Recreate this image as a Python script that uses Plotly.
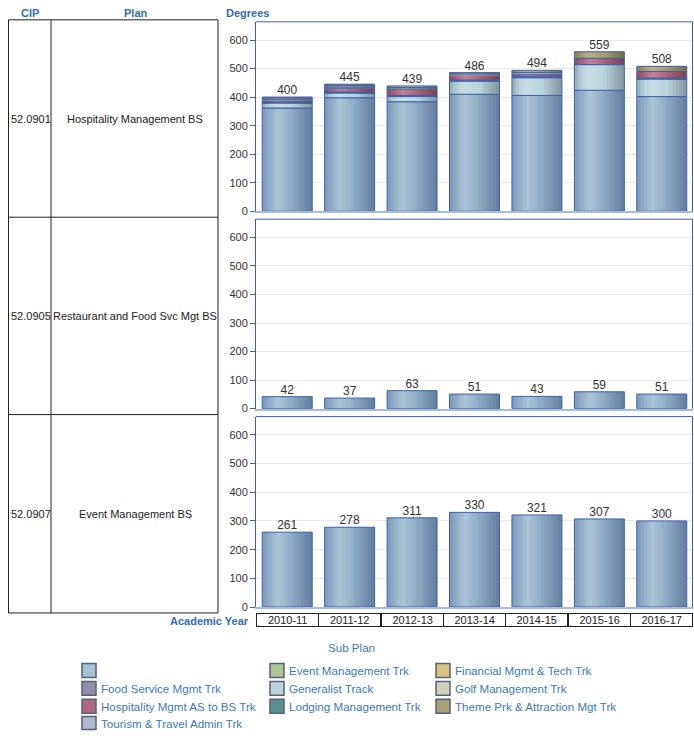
import plotly.graph_objects as go

# ---------------- data ----------------
years = ["2010-11", "2011-12", "2012-13", "2013-14", "2014-15", "2015-16", "2016-17"]
cips = ["52.0901", "52.0905", "52.0907"]
plans = ["Hospitality Management BS", "Restaurant and Food Svc Mgt BS", "Event Management BS"]

# Panel 1: Hospitality Management BS (stacked by sub plan, bottom to top)
hm_blank = [362, 398, 384, 410, 406, 424, 402]
hm_generalist = [18, 17, 18, 46, 62, 90, 62]
hm_lodging = [3, 3, 0, 0, 0, 0, 3]
hm_food = [0, 0, 4, 4, 5, 0, 0]
hm_hosp_as = [7, 13, 22, 18, 7, 22, 23]
hm_golf = [3, 4, 0, 3, 6, 0, 0]
hm_theme = [5, 6, 6, 5, 8, 23, 18]
hm_financial = [2, 4, 5, 0, 0, 0, 0]

# Panel 2: Restaurant and Food Svc Mgt BS
rf_blank = [42, 37, 63, 51, 43, 59, 51]
# Panel 3: Event Management BS
em_blank = [261, 278, 311, 330, 321, 307, 300]

legend_labels = ["", "Event Management Trk", "Financial Mgmt & Tech Trk",
                 "Food Service Mgmt Trk", "Generalist Track", "Golf Management Trk",
                 "Hospitality Mgmt AS to BS Trk", "Lodging Management Trk",
                 "Theme Prk & Attraction Mgt Trk", "Tourism & Travel Admin Trk"]

# ---------------- styles ----------------
COL = {
    "": "#93aecb",
    "Event Management Trk": "#a9c48e",
    "Financial Mgmt & Tech Trk": "#d8c07a",
    "Food Service Mgmt Trk": "#8d86a8",
    "Generalist Track": "#b7d3dc",
    "Golf Management Trk": "#d0d0b8",
    "Hospitality Mgmt AS to BS Trk": "#ad6078",
    "Lodging Management Trk": "#4f8a8a",
    "Theme Prk & Attraction Mgt Trk": "#a39a6c",
    "Tourism & Travel Admin Trk": "#aab5cd",
}
BLANK_STOPS = [(0.0, "#7b98bc"), (0.3, "#aac6d6"), (0.55, "#92afca"), (1.0, "#627e9e")]

W, H = 694, 736
def px(x): return x / W
def py(y): return 1 - y / H

def hex2rgb(h):
    h = h.lstrip("#")
    return [int(h[i:i + 2], 16) for i in (0, 2, 4)]

def rgbstr(r):
    return "rgb(%d,%d,%d)" % tuple(int(round(c)) for c in r)

def shade(h, p):
    r = hex2rgb(h)
    if p >= 0:
        r = [c + (255 - c) * p for c in r]
    else:
        r = [c * (1 + p) for c in r]
    return rgbstr(r)

def prof(t):
    pts = [(0.0, -0.20), (0.3, 0.22), (0.55, 0.05), (1.0, -0.30)]
    for (t0, v0), (t1, v1) in zip(pts[:-1], pts[1:]):
        if t0 <= t <= t1:
            return v0 + (v1 - v0) * (t - t0) / (t1 - t0)
    return 0

def stops_color(t):
    for (t0, c0), (t1, c1) in zip(BLANK_STOPS[:-1], BLANK_STOPS[1:]):
        if t0 <= t <= t1:
            a, b = hex2rgb(c0), hex2rgb(c1)
            f = (t - t0) / (t1 - t0)
            return rgbstr([x + (y - x) * f for x, y in zip(a, b)])
    return BLANK_STOPS[-1][1]

def grad(name, t):
    return stops_color(t) if name == "" else shade(COL[name], prof(t))

N = 14
BW = 0.8
STEP = BW / N

fig = go.Figure()

def add_stack(series, xa, ya):
    base = [0] * len(years)
    for name, vals in series:
        for i in range(N):
            t = (i + 0.5) / N
            c = grad(name, t)
            w = STEP if i == N - 1 else STEP * 1.6
            fig.add_bar(x=years, y=vals, base=base[:], width=w,
                        offset=-BW / 2 + i * STEP,
                        marker=dict(color=c, line=dict(width=0)),
                        xaxis=xa, yaxis=ya, hoverinfo="skip", showlegend=False)
        fig.add_bar(x=years, y=[v if v else None for v in vals], base=base[:],
                    width=BW, offset=-BW / 2,
                    marker=dict(color="rgba(0,0,0,0)", line=dict(color="#3d5fae", width=1)),
                    xaxis=xa, yaxis=ya, hoverinfo="skip", showlegend=False)
        base = [b + v for b, v in zip(base, vals)]
    fig.add_scatter(x=years, y=base, mode="text", text=[str(b) for b in base],
                    textposition="top center",
                    textfont=dict(size=12, color="#333333", family="Liberation Sans, Arial"),
                    xaxis=xa, yaxis=ya, hoverinfo="skip", showlegend=False, cliponaxis=False)

add_stack([("", hm_blank), ("Generalist Track", hm_generalist),
           ("Lodging Management Trk", hm_lodging), ("Food Service Mgmt Trk", hm_food),
           ("Hospitality Mgmt AS to BS Trk", hm_hosp_as), ("Golf Management Trk", hm_golf),
           ("Theme Prk & Attraction Mgt Trk", hm_theme), ("Financial Mgmt & Tech Trk", hm_financial)],
          "x", "y")
add_stack([("", rf_blank)], "x2", "y2")
add_stack([("", em_blank)], "x3", "y3")

panels = [(22, 213), (221, 412), (420, 612)]
xdom = [px(256), px(693)]
axfont = dict(size=11, color="#333333", family="Liberation Sans, Arial")
layout = dict(width=W, height=H, margin=dict(l=0, r=0, t=0, b=0),
              paper_bgcolor="white", plot_bgcolor="white", barmode="overlay",
              showlegend=False)
for k, (top, bot) in enumerate(panels):
    sx = "" if k == 0 else str(k + 1)
    layout["xaxis" + sx] = dict(domain=xdom, anchor="y" + sx, showticklabels=False,
                                ticks="", showgrid=False, showline=True,
                                linecolor="#a9bbdc", linewidth=2, mirror=False,
                                range=[-0.5, 6.5], type="category", fixedrange=True)
    layout["yaxis" + sx] = dict(domain=[py(bot), py(top)], anchor="x" + sx,
                                range=[0, 664], tickvals=[0, 100, 200, 300, 400, 500, 600],
                                ticks="outside", ticklen=5, tickcolor="#3d5fae",
                                showline=True, linecolor="#3d5fae", linewidth=1,
                                showgrid=True, gridcolor="#ebebeb", zeroline=False,
                                tickfont=axfont, fixedrange=True)
fig.update_layout(**layout)

shapes = []
# panel frames: top and right borders
for top, bot in panels:
    shapes.append(dict(type="line", xref="paper", yref="paper", x0=px(256), x1=px(692.5),
                       y0=py(top), y1=py(top), line=dict(color="#3d5fae", width=1)))
    shapes.append(dict(type="line", xref="paper", yref="paper", x0=px(692.5), x1=px(692.5),
                       y0=py(bot), y1=py(top), line=dict(color="#3d5fae", width=1)))
# left table
tbl = dict(color="#222222", width=1)
shapes.append(dict(type="rect", xref="paper", yref="paper", x0=px(8.5), x1=px(218),
                   y0=py(618), y1=py(20), line=tbl))
shapes.append(dict(type="line", xref="paper", yref="paper", x0=px(51), x1=px(51),
                   y0=py(618), y1=py(20), line=tbl))
for yy in (219, 418):
    shapes.append(dict(type="line", xref="paper", yref="paper", x0=px(8.5), x1=px(218),
                       y0=py(yy), y1=py(yy), line=tbl))

ann = []
hdr = dict(size=11, color="#2f6db3", family="Liberation Sans, Arial")
for txt, x, anchor in (("<b>CIP</b>", 30, "center"), ("<b>Plan</b>", 136, "center"),
                       ("<b>Degrees</b>", 224, "left")):
    ann.append(dict(text=txt, x=px(x), y=py(13), xref="paper", yref="paper",
                    xanchor=anchor, yanchor="middle", showarrow=False, font=hdr))
ann.append(dict(text="<b>Academic Year</b>", x=px(251), y=py(626), xref="paper", yref="paper",
                xanchor="right", yanchor="middle", showarrow=False, font=hdr))
tfont = dict(size=11, color="#222222", family="Liberation Sans, Arial")
for (top, bot), cip, plan in zip([(20, 219), (219, 418), (418, 618)], cips, plans):
    cy = (top + bot) / 2
    ann.append(dict(text=cip, x=px(9), y=py(cy), xref="paper", yref="paper",
                    xanchor="left", yanchor="middle", showarrow=False, font=tfont))
    ann.append(dict(text=plan, x=px(135), y=py(cy), xref="paper", yref="paper",
                    xanchor="center", yanchor="middle", showarrow=False, font=tfont))
for yr in years:
    ann.append(dict(text=yr, x=yr, xref="x3", y=py(625.5), yref="paper",
                    xanchor="center", yanchor="middle", showarrow=False,
                    width=61.4, height=12, borderpad=0, bordercolor="#222222", borderwidth=1,
                    font=dict(size=11, color="#222222", family="Liberation Sans, Arial")))

# legend
lfont = dict(size=11.6, color="#3d7ab8", family="Liberation Sans, Arial")
ann.append(dict(text="Sub Plan", x=px(351), y=py(653), xref="paper", yref="paper",
                xanchor="center", yanchor="middle", showarrow=False, font=lfont))
colx = [82, 270, 436]
rowy = [676, 694, 712, 729.5]
for i, lab in enumerate(legend_labels):
    r, c = divmod(i, 3)
    x0, y0 = colx[c], rowy[r]
    shapes.append(dict(type="rect", xref="paper", yref="paper", x0=px(x0), x1=px(x0 + 14),
                       y0=py(min(y0 + 7, 735.5)), y1=py(y0 - 7),
                       fillcolor=(stops_color(0.35) if lab == "" else shade(COL[lab], 0.05)),
                       line=dict(color="#56627a", width=1.5)))
    if lab:
        ann.append(dict(text=lab, x=px(x0 + 17), y=py(y0), xref="paper", yref="paper",
                        xanchor="left", yanchor="middle", showarrow=False, font=lfont))

fig.update_layout(shapes=shapes, annotations=ann)
# remove the default 8px page margin so the 694x736 figure fills the window exactly
fig.write_html("out.html", config={"displayModeBar": False},
               post_script="document.body.style.margin='0';document.body.style.overflow='hidden';"
                           "document.documentElement.style.overflow='hidden';")
